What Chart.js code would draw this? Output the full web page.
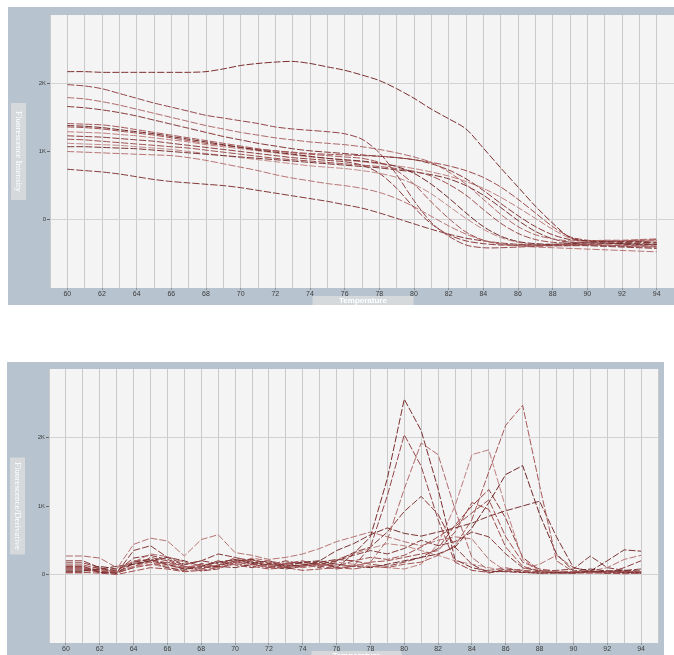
<!DOCTYPE html>
<html><head><meta charset="utf-8">
<script src="https://cdn.jsdelivr.net/npm/chart.js@4/dist/chart.umd.min.js"></script>
<style>
html,body{margin:0;padding:0;background:#fff;overflow:hidden;width:674px;height:655px;}
#c1{position:absolute;left:8px;top:7px;}
#c2{position:absolute;left:7px;top:362px;}
</style></head><body>
<canvas id="c1" width="666" height="298"></canvas>
<canvas id="c2" width="657" height="293"></canvas>
<script>
// Temperatures (°C) of each reading
const temperatures = [60,61,62,63,64,65,66,67,68,69,70,71,72,73,74,75,76,77,78,79,80,81,82,83,84,85,86,87,88,89,90,91,92,93,94];
// X tick labels (every 2 °C)
const xTickValues = [60,62,64,66,68,70,72,74,76,78,80,82,84,86,88,90,92,94];
// Y tick labels (values in thousands)
const yTickValues = [0,1,2];
const yTickLabels = ['0','1K','2K'];
const xTitle = 'Temperature';
const yTitleTop = 'Fluorescence Intensity';
const yTitleBottom = 'Fluorescence/Derivative';

// Melt curves, fluorescence (thousands)
const meltA = [2.17,2.17,2.16,2.16,2.16,2.16,2.16,2.16,2.17,2.21,2.26,2.29,2.31,2.32,2.29,2.24,2.19,2.12,2.04,1.92,1.78,1.62,1.48,1.33,1.05,0.76,0.48,0.20,-0.05,-0.26,-0.31,-0.32,-0.33,-0.33,-0.34];
const meltB = [1.98,1.96,1.92,1.85,1.78,1.71,1.65,1.59,1.53,1.49,1.45,1.41,1.36,1.33,1.31,1.29,1.26,1.18,0.98,0.66,0.28,-0.04,-0.24,-0.37,-0.41,-0.41,-0.40,-0.39,-0.38,-0.37,-0.37,-0.38,-0.39,-0.40,-0.40];
const meltC = [1.79,1.77,1.73,1.68,1.62,1.56,1.50,1.44,1.38,1.33,1.28,1.24,1.20,1.17,1.14,1.12,1.10,1.07,1.03,0.98,0.92,0.84,0.70,0.52,0.30,0.08,-0.10,-0.22,-0.28,-0.31,-0.31,-0.30,-0.30,-0.29,-0.28];
const meltD = [1.66,1.64,1.61,1.57,1.52,1.46,1.40,1.34,1.28,1.22,1.17,1.12,1.08,1.04,1.01,0.99,0.97,0.95,0.93,0.91,0.88,0.82,0.73,0.60,0.43,0.24,0.06,-0.10,-0.22,-0.29,-0.31,-0.31,-0.32,-0.32,-0.33];
const meltE = [1.41,1.40,1.39,1.36,1.32,1.28,1.24,1.20,1.16,1.12,1.08,1.04,1.01,0.98,0.96,0.94,0.92,0.90,0.84,0.72,0.52,0.26,0.02,-0.18,-0.30,-0.36,-0.38,-0.38,-0.37,-0.36,-0.36,-0.37,-0.38,-0.38,-0.39];
const meltF = [1.38,1.37,1.35,1.32,1.29,1.26,1.22,1.18,1.14,1.10,1.06,1.02,0.99,0.96,0.93,0.90,0.88,0.86,0.83,0.78,0.68,0.52,0.32,0.10,-0.10,-0.24,-0.32,-0.35,-0.36,-0.35,-0.34,-0.34,-0.35,-0.36,-0.36];
const meltG = [1.29,1.28,1.27,1.25,1.23,1.20,1.17,1.14,1.10,1.07,1.04,1.01,0.98,0.95,0.92,0.90,0.87,0.85,0.82,0.79,0.75,0.70,0.64,0.56,0.46,0.33,0.18,0.02,-0.14,-0.27,-0.32,-0.33,-0.33,-0.32,-0.31];
const meltH = [1.23,1.22,1.21,1.19,1.17,1.15,1.12,1.09,1.06,1.03,1.00,0.97,0.94,0.91,0.89,0.87,0.85,0.80,0.68,0.46,0.18,-0.06,-0.22,-0.31,-0.35,-0.37,-0.37,-0.37,-0.36,-0.36,-0.36,-0.35,-0.36,-0.37,-0.37];
const meltI = [1.18,1.17,1.15,1.13,1.11,1.09,1.07,1.05,1.02,0.99,0.96,0.93,0.90,0.88,0.86,0.84,0.82,0.80,0.78,0.75,0.71,0.64,0.52,0.36,0.15,-0.05,-0.20,-0.29,-0.33,-0.34,-0.33,-0.32,-0.31,-0.30,-0.29];
const meltJ = [1.07,1.07,1.06,1.05,1.04,1.02,1.00,0.98,0.96,0.94,0.92,0.90,0.88,0.86,0.84,0.82,0.80,0.78,0.76,0.73,0.70,0.66,0.60,0.50,0.36,0.18,-0.01,-0.17,-0.28,-0.33,-0.34,-0.34,-0.35,-0.35,-0.36];
const meltK = [1.00,0.99,0.98,0.97,0.96,0.95,0.94,0.91,0.87,0.82,0.77,0.72,0.66,0.61,0.57,0.53,0.50,0.46,0.40,0.31,0.19,0.05,-0.09,-0.21,-0.30,-0.35,-0.38,-0.40,-0.41,-0.42,-0.43,-0.44,-0.45,-0.46,-0.47];
const meltL = [0.74,0.72,0.70,0.67,0.63,0.59,0.56,0.54,0.52,0.50,0.47,0.43,0.39,0.35,0.31,0.27,0.22,0.17,0.10,0.02,-0.06,-0.14,-0.21,-0.27,-0.31,-0.34,-0.36,-0.37,-0.38,-0.38,-0.38,-0.39,-0.40,-0.41,-0.42];
const meltM = [1.36,1.35,1.33,1.30,1.27,1.24,1.20,1.16,1.12,1.09,1.06,1.03,1.01,0.99,0.97,0.96,0.95,0.94,0.93,0.91,0.88,0.84,0.79,0.72,0.62,0.48,0.30,0.10,-0.10,-0.25,-0.30,-0.31,-0.31,-0.30,-0.30];
const meltN = [1.12,1.11,1.10,1.09,1.07,1.05,1.03,1.00,0.97,0.94,0.91,0.88,0.85,0.82,0.79,0.77,0.75,0.72,0.68,0.62,0.52,0.38,0.20,0.02,-0.14,-0.26,-0.33,-0.37,-0.38,-0.38,-0.37,-0.37,-0.38,-0.39,-0.40];

// Derivative curves (thousands)
const deriv1 = [0.12,0.12,0.03,0.02,0.18,0.22,0.15,0.08,0.10,0.12,0.20,0.22,0.16,0.12,0.14,0.18,0.10,0.30,0.55,1.40,2.56,2.10,1.25,0.22,0.10,0.05,0.04,0.03,0.02,0.03,0.02,0.05,0.04,0.03,0.02];
const deriv2 = [0.08,0.08,0.05,0.02,0.10,0.25,0.20,0.12,0.05,0.08,0.18,0.15,0.10,0.16,0.20,0.12,0.08,0.12,0.40,1.15,2.04,1.58,0.80,0.18,0.06,0.03,0.05,0.04,0.02,0.02,0.03,0.04,0.02,0.02,0.03];
const deriv3 = [0.27,0.27,0.24,0.10,0.18,0.30,0.26,0.18,0.12,0.10,0.15,0.24,0.20,0.15,0.10,0.13,0.15,0.12,0.18,0.50,1.25,1.92,1.75,0.95,0.25,0.06,0.10,0.05,0.03,0.04,0.03,0.02,0.04,0.03,0.03];
const deriv4 = [0.17,0.17,0.10,0.05,0.24,0.28,0.22,0.14,0.20,0.16,0.22,0.18,0.14,0.20,0.15,0.10,0.20,0.32,0.40,0.62,0.92,1.14,0.88,0.40,0.15,0.02,0.08,0.06,0.04,0.03,0.02,0.04,0.05,0.04,0.03];
const deriv5 = [0.10,0.10,0.02,0.05,0.20,0.22,0.17,0.10,0.15,0.12,0.25,0.20,0.18,0.14,0.12,0.15,0.10,0.08,0.12,0.10,0.15,0.18,0.28,0.42,0.80,1.50,2.18,2.47,1.30,0.20,0.04,0.05,0.03,0.05,0.04];
const deriv6 = [0.05,0.05,0.08,0.12,0.15,0.20,0.25,0.20,0.12,0.18,0.22,0.16,0.20,0.12,0.18,0.20,0.15,0.12,0.10,0.15,0.20,0.25,0.30,0.40,0.68,1.05,1.46,1.59,0.88,0.30,0.05,0.08,0.05,0.06,0.05];
const deriv7 = [0.12,0.12,0.06,0.02,0.12,0.18,0.12,0.10,0.14,0.10,0.18,0.14,0.12,0.18,0.16,0.12,0.18,0.15,0.12,0.10,0.08,0.15,0.45,1.00,1.75,1.82,0.97,0.22,0.05,0.04,0.03,0.02,0.03,0.02,0.02];
const deriv8 = [0.08,0.08,0.04,0.02,0.16,0.20,0.14,0.08,0.12,0.20,0.14,0.10,0.16,0.10,0.12,0.18,0.22,0.20,0.15,0.12,0.18,0.25,0.38,0.72,1.00,1.24,0.82,0.25,0.06,0.02,0.03,0.04,0.02,0.10,0.20];
const deriv9 = [0.14,0.14,0.08,0.03,0.10,0.14,0.18,0.12,0.08,0.14,0.18,0.22,0.12,0.10,0.14,0.16,0.12,0.20,0.25,0.22,0.28,0.40,0.55,0.70,0.90,1.09,0.55,0.18,0.08,0.05,0.04,0.03,0.05,0.04,0.03];
const deriv10 = [0.05,0.05,0.12,0.08,0.15,0.18,0.10,0.06,0.16,0.12,0.10,0.15,0.12,0.08,0.12,0.20,0.35,0.45,0.58,0.68,0.60,0.56,0.62,0.68,0.75,0.85,0.93,1.00,1.07,0.55,0.10,0.05,0.20,0.36,0.34];
const deriv11 = [0.10,0.10,0.05,0.08,0.44,0.53,0.49,0.27,0.51,0.58,0.32,0.28,0.22,0.25,0.30,0.38,0.48,0.55,0.62,0.55,0.48,0.42,0.50,0.55,0.52,0.22,0.05,0.08,0.15,0.28,0.10,0.05,0.10,0.22,0.28];
const deriv12 = [0.20,0.20,0.10,0.02,0.35,0.42,0.25,0.15,0.20,0.30,0.25,0.18,0.12,0.15,0.18,0.15,0.20,0.28,0.35,0.30,0.38,0.50,0.42,0.48,0.62,0.55,0.30,0.10,0.05,0.06,0.08,0.27,0.10,0.06,0.08];
const deriv13 = [0.03,0.03,0.02,0.00,0.05,0.10,0.08,0.04,0.06,0.10,0.16,0.12,0.08,0.10,0.06,0.08,0.10,0.12,0.18,0.20,0.25,0.30,0.35,0.62,1.05,0.95,0.40,0.12,0.05,0.03,0.02,0.03,0.02,0.01,0.02];
const deriv14 = [0.02,0.02,0.08,0.05,0.12,0.15,0.10,0.05,0.08,0.14,0.20,0.16,0.10,0.12,0.18,0.14,0.22,0.30,0.38,0.45,0.42,0.35,0.28,0.20,0.15,0.10,0.05,0.03,0.02,0.02,0.03,0.02,0.02,0.03,0.04];

const meltSeries = [meltA,meltB,meltC,meltD,meltE,meltF,meltG,meltH,meltI,meltJ,meltK,meltL,meltM,meltN];
const derivSeries = [deriv1,deriv2,deriv3,deriv4,deriv5,deriv6,deriv7,deriv8,deriv9,deriv10,deriv11,deriv12,deriv13,deriv14];
const lineColors = ['#7c2f2f','#94464a','#b06a6a','#873838','#a65858','#6f2828','#c08080','#8e3e3e','#9f5050','#7a3434','#b87474','#843a3a','#a04c4c','#c28a8a'];

const FRAME = '#b7c3ce';
const PLOT_BG = '#f4f4f4';
const BOX = '#d6d9dc';

const framePlugin = {
  id: 'frame',
  beforeDraw(chart, args, o) {
    const ctx = chart.ctx, a = chart.chartArea;
    ctx.save();
    ctx.fillStyle = FRAME;
    ctx.fillRect(0, 0, chart.width, chart.height);
    ctx.fillStyle = PLOT_BG;
    ctx.fillRect(a.left, a.top, a.right - a.left, a.bottom - a.top);
    const cy = (a.top + a.bottom) / 2;
    ctx.fillStyle = BOX;
    ctx.fillRect(3, cy - 48.5, 15, 97);
    ctx.save();
    ctx.translate(10.5, cy);
    ctx.rotate(Math.PI / 2);
    ctx.fillStyle = '#ffffff';
    ctx.font = '9px "Liberation Serif"';
    ctx.textAlign = 'center';
    ctx.textBaseline = 'middle';
    ctx.fillText(o.yTitle, 0, 0);
    ctx.restore();
    const cx = (a.left + a.right) / 2 + o.xShift;
    ctx.fillStyle = BOX;
    ctx.fillRect(cx - o.xBoxW / 2, a.bottom + 8, o.xBoxW, 12);
    ctx.fillStyle = '#ffffff';
    ctx.font = 'bold 8px "Liberation Sans"';
    ctx.textAlign = 'center';
    ctx.textBaseline = 'middle';
    ctx.fillText(o.xTitle, cx, a.bottom + 13);
    ctx.restore();
  }
};

function buildChart(canvasId, series, tension, pad, xScaleH, plugOpts, dash) {
  return new Chart(document.getElementById(canvasId), {
    type: 'line',
    data: {
      datasets: series.map((vals, i) => ({
        data: temperatures.map((t, j) => ({ x: t, y: vals[j] })),
        borderColor: lineColors[i % lineColors.length],
        borderWidth: 1,
        borderDash: dash,
        pointRadius: 0,
        tension: tension,
        fill: false
      }))
    },
    options: {
      responsive: false,
      animation: false,
      devicePixelRatio: 1,
      layout: { padding: pad },
      plugins: { legend: { display: false }, tooltip: { enabled: false }, frame: plugOpts },
      scales: {
        x: {
          type: 'linear', min: 59, max: 95,
          afterFit(s) { s.height = xScaleH; },
          border: { display: false },
          grid: {
            color: '#c9c9c9', lineWidth: 1, drawTicks: true, tickLength: 2,
            tickColor: c => (c.tick && xTickValues.includes(c.tick.value)) ? '#8a949c' : 'rgba(0,0,0,0)'
          },
          ticks: {
            stepSize: 1, autoSkip: false, maxRotation: 0, padding: 0,
            color: '#3c3c3c', font: { size: 7, family: 'Liberation Sans' },
            callback: v => xTickValues.includes(v) ? String(v) : ''
          }
        },
        y: {
          min: -1, max: 3,
          afterFit(s) { s.width = 42; },
          border: { display: false },
          grid: {
            color: c => (c.tick && (c.tick.value === 0 || c.tick.value === 2)) ? '#d2d2d2' : 'rgba(0,0,0,0)',
            drawTicks: true, tickLength: 3,
            tickColor: c => (c.tick && yTickValues.includes(c.tick.value)) ? '#666' : 'rgba(0,0,0,0)'
          },
          ticks: {
            stepSize: 1, autoSkip: false, padding: 1,
            color: '#3c3c3c', font: { size: 6, family: 'Liberation Sans' },
            callback: v => { const k = yTickValues.indexOf(v); return k >= 0 ? yTickLabels[k] : ''; }
          }
        }
      }
    },
    plugins: [framePlugin]
  });
}

buildChart('c1', meltSeries, 0.3, { top: 8, right: 0, left: 0, bottom: 0 }, 17,
  { yTitle: yTitleTop, xTitle: xTitle, xBoxW: 101, xShift: 1 }, [7, 2]);
buildChart('c2', derivSeries, 0, { top: 7, right: 6, left: 0, bottom: 0 }, 12,
  { yTitle: yTitleBottom, xTitle: xTitle, xBoxW: 90, xShift: 3 }, [7, 2]);
</script>
</body></html>
